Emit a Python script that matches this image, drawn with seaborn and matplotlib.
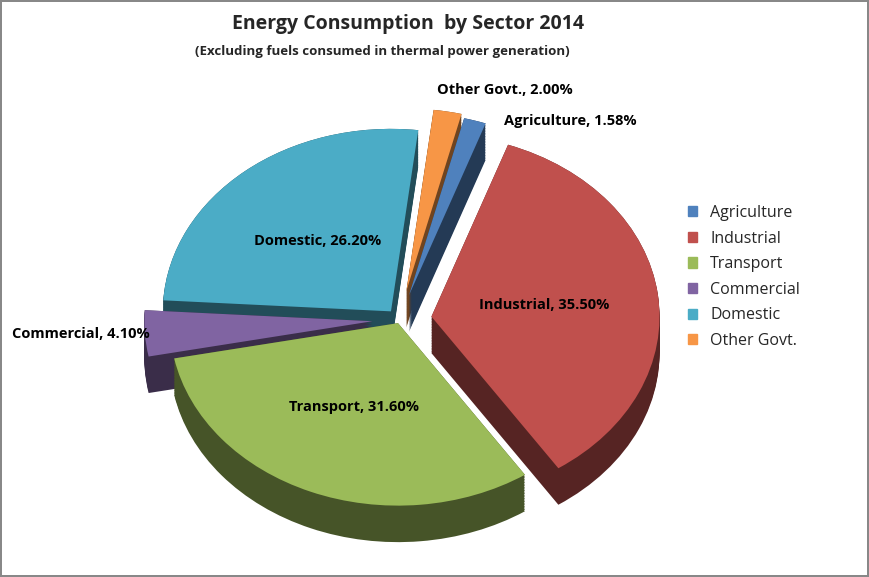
import numpy as np
import matplotlib
matplotlib.use("Agg")
import matplotlib.pyplot as plt
import seaborn as sns
from matplotlib.colors import to_rgb

sns.set_theme(style="white")
plt.rcParams['font.family'] = ['Open Sans', 'DejaVu Sans']

# --- данные ---
sectors = ["Agriculture", "Industrial", "Transport", "Commercial", "Domestic", "Other Govt."]
shares = [1.58, 35.50, 31.60, 4.10, 26.20, 2.00]
colors = ["#4F81BD", "#C0504D", "#9BBB59", "#8064A2", "#4BACC6", "#F79646"]
explode = [0.14, 0.14, 0.02, 0.12, 0.06, 0.16]

fig = plt.figure(figsize=(8.69, 5.77), dpi=100)
fig.patch.set_edgecolor("#888888")
fig.patch.set_linewidth(1.5)
ax = fig.add_axes([0.04, 0.03, 0.84, 0.80])

start = 76
dark = [tuple(c * 0.45 for c in to_rgb(col)) for col in colors]
depth = 0.2
# боковая стенка (псевдо-3D)
for d in np.linspace(-depth, 0, 24):
    ax.pie(shares, colors=dark, explode=explode, startangle=start,
           counterclock=False, center=(0, d), radius=1.0,
           wedgeprops=dict(linewidth=0))
wedges, _ = ax.pie(shares, colors=colors, explode=explode, startangle=start,
                   counterclock=False, radius=1.0,
                   wedgeprops=dict(linewidth=0))

# подписи
for w, name, val, ex in zip(wedges, sectors, shares, explode):
    ang = np.deg2rad((w.theta1 + w.theta2) / 2)
    if val > 10:
        r = 0.5 + ex
        x, y = r * np.cos(ang), r * np.sin(ang)
        ha = "center"
    else:
        r = 1.02 + ex
        x, y = r * np.cos(ang), r * np.sin(ang)
        ha = "left" if np.cos(ang) > 0 else "right"
    if name == "Agriculture":
        x, y = x + 0.12, y - 0.02
    if name == "Other Govt.":
        x, y = x - 0.05, y + 0.1
        ha = "left"
    if name == "Commercial":
        x = x + 0.04
    ax.text(x, y, f"{name}, {val:.2f}%", ha=ha, va="center",
            fontsize=10.5, fontweight="bold", color="black")

ax.set_xlim(-1.6, 1.6)
ax.set_ylim(-1.3, 1.2)
ax.set_aspect(0.8)
ax.axis("off")

fig.text(0.47, 0.95, "Energy Consumption  by Sector 2014", ha="center",
         fontsize=14, fontweight="bold")
fig.text(0.44, 0.905, "(Excluding fuels consumed in thermal power generation)",
         ha="center", fontsize=9.5, fontweight="bold")

handles = [plt.Rectangle((0, 0), 1, 1, color=c) for c in colors]
fig.legend(handles, sectors, loc="center left", bbox_to_anchor=(0.775, 0.52),
           frameon=False, fontsize=11.5, handlelength=0.6, handleheight=0.6,
           labelspacing=0.6)

plt.savefig("out.png", dpi=100)
